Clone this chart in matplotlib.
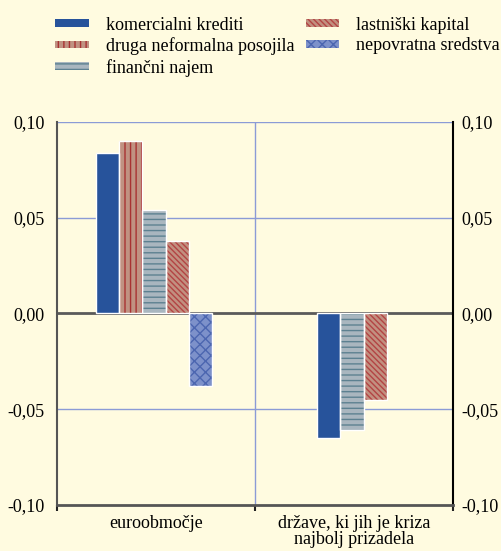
import numpy as np
import matplotlib.pyplot as plt
from matplotlib.patches import Patch

plt.rcParams["font.family"] = ["Liberation Serif", "DejaVu Serif"]
plt.rcParams["hatch.linewidth"] = 1.0

# Data
categories = ["euroobmočje", "države, ki jih je kriza\nnajbolj prizadela"]
series = [
    "komercialni krediti",
    "druga neformalna posojila",
    "finančni najem",
    "lastniški kapital",
    "nepovratna sredstva",
]
values = {
    "komercialni krediti": [0.084, -0.065],
    "druga neformalna posojila": [0.090, np.nan],
    "finančni najem": [0.054, -0.061],
    "lastniški kapital": [0.038, -0.045],
    "nepovratna sredstva": [-0.038, np.nan],
}
yticks = [-0.10, -0.05, 0.00, 0.05, 0.10]
ytick_labels = [f"{v:.2f}".replace(".", ",") for v in yticks]

bg = "#fffbe0"
styles = {
    "komercialni krediti": dict(facecolor="#27539b", hatch=None, hcolor="#27539b"),
    "druga neformalna posojila": dict(facecolor="#c09282", hatch="|||", hcolor="#a83232"),
    "finančni najem": dict(facecolor="#a9b6bf", hatch="---", hcolor="#5d8191"),
    "lastniški kapital": dict(facecolor="#c29080", hatch="\\\\\\\\\\\\", hcolor="#b34444"),
    "nepovratna sredstva": dict(facecolor="#7d91ca", hatch="xxx", hcolor="#4c66b0"),
}

fs = 13

fig = plt.figure(figsize=(5.01, 5.51), dpi=100, facecolor=bg)
ax = fig.add_axes([0.1138, 0.0835, 0.7904, 0.6951], facecolor=bg)

bar_w = 0.117
for ci, cat in enumerate(categories):
    present = [s for s in series if not np.isnan(values[s][ci])]
    n = len(present)
    for k, s in enumerate(present):
        x = ci + 0.49 + (k - (n - 1) / 2) * bar_w
        st = styles[s]
        ax.bar(x, values[s][ci], width=bar_w, color=st["facecolor"],
               edgecolor=st["hcolor"], linewidth=0, hatch=st["hatch"], zorder=3)
        # white outline drawn on top of the hatched bar
        ax.bar(x, values[s][ci], width=bar_w, facecolor="none",
               edgecolor="white", linewidth=1.0, zorder=4)

# Axes styling
ax.set_xlim(0, 2)
ax.set_ylim(-0.10, 0.10)
ax.set_yticks(yticks)
ax.set_yticklabels(ytick_labels, fontsize=fs)
ax.tick_params(axis="y", left=False, right=False, length=0, pad=9)

# right-hand labels sit a bit closer to the axis
ax_r = ax.twinx()
ax_r.set_ylim(ax.get_ylim())
ax_r.set_yticks(yticks)
ax_r.set_yticklabels(ytick_labels, fontsize=fs)
ax_r.tick_params(axis="y", length=0, pad=6)
for sp in ax_r.spines.values():
    sp.set_visible(False)

ax.set_xticks([0.5, 1.5])
ax.set_xticklabels(categories, fontsize=fs, linespacing=0.95)
ax.set_xticks([0, 1, 2], minor=True)
ax.tick_params(axis="x", which="major", length=0, pad=7)
ax.tick_params(axis="x", which="minor", length=4, width=1.5, color="#222222", direction="out")

for v in [0.10, 0.05, -0.05]:
    ax.axhline(v, color="#8b9bd6", linewidth=1.0, zorder=1)
ax.axvline(1, color="#8b9bd6", linewidth=1.0, zorder=1)
ax.axhline(0, color="#5a5a5a", linewidth=2.0, zorder=2)

ax.spines["top"].set_visible(False)
ax.spines["left"].set_color("#555555")
ax.spines["left"].set_linewidth(1.5)
ax.spines["right"].set_color("#000000")
ax.spines["right"].set_linewidth(1.5)
ax.spines["bottom"].set_color("#555555")
ax.spines["bottom"].set_linewidth(2.0)

# Legend
handles = [Patch(facecolor=styles[s]["facecolor"], edgecolor=styles[s]["hcolor"],
                 hatch=styles[s]["hatch"], linewidth=0, label=s) for s in series]
fig.legend(handles=handles, loc="upper left", bbox_to_anchor=(0.11, 0.970), ncol=2,
           frameon=False, fontsize=fs, handlelength=1.85, handleheight=0.3,
           handletextpad=0.95, columnspacing=0.65, labelspacing=0.2,
           borderpad=0, borderaxespad=0)

fig.savefig("out.png", dpi=100, facecolor=bg)
